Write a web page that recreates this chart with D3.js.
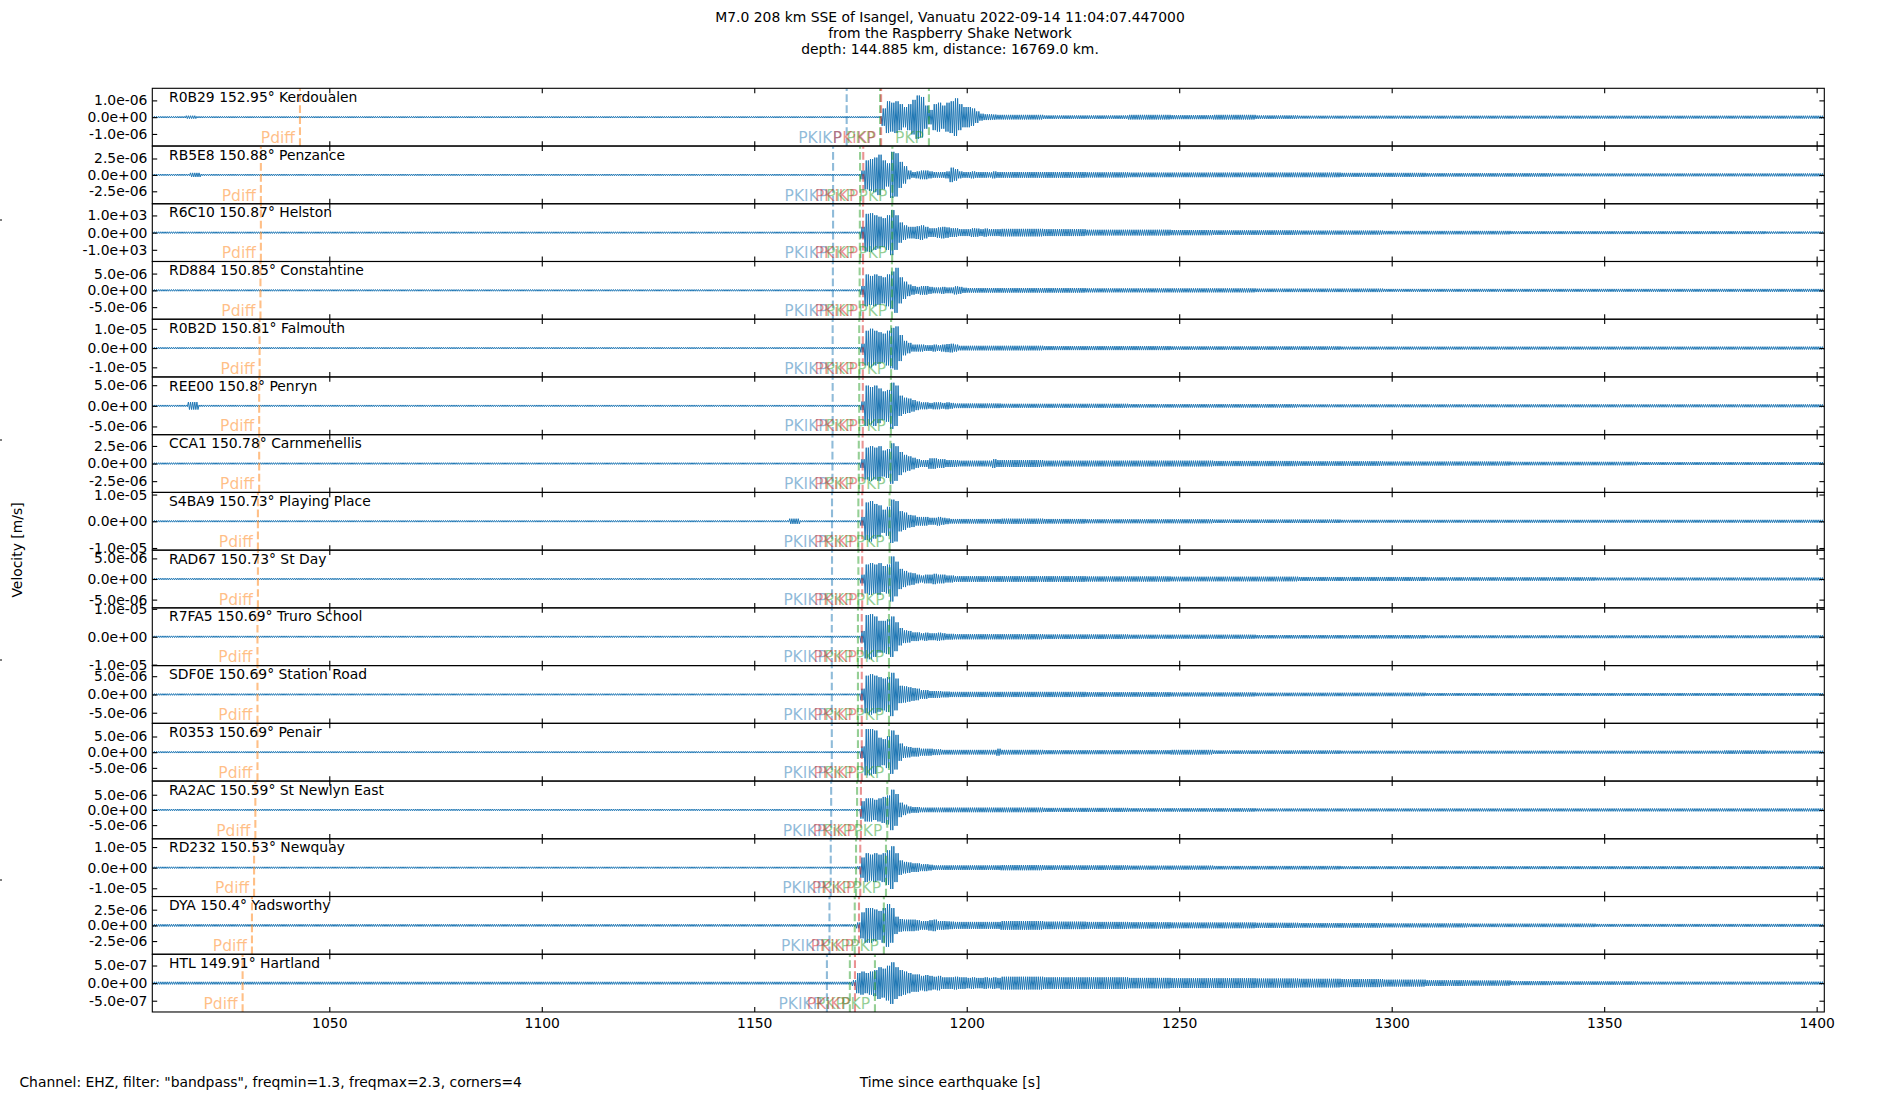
<!DOCTYPE html>
<html><head><meta charset="utf-8">
<script src="https://cdn.jsdelivr.net/npm/d3@7"></script>
<style>
body{margin:0;background:#fff}
text{font-family:"DejaVu Sans",sans-serif;fill:#000}
</style></head>
<body><svg id="chart" width="1900" height="1100"></svg>
<script>
// ---------------- data ----------------
const titleLines = ["M7.0 208 km SSE of Isangel, Vanuatu 2022-09-14 11:04:07.447000",
  "from the Raspberry Shake Network", "depth: 144.885 km, distance: 16769.0 km."];
const footerText = 'Channel: EHZ, filter: "bandpass", freqmin=1.3, freqmax=2.3, corners=4';
const xLabel = "Time since earthquake [s]";
const yLabel = "Velocity [m/s]";
const timeDomain = [1008.35, 1401.8];
const xTicks = [1050, 1100, 1150, 1200, 1250, 1300, 1350, 1400];

const stationCodes = ["R0B29","RB5E8","R6C10","RD884","R0B2D","REE00","CCA1","S4BA9","RAD67","R7FA5","SDF0E","R0353","RA2AC","RD232","DYA","HTL"];
const distances = [152.95,150.88,150.87,150.85,150.81,150.8,150.78,150.73,150.73,150.69,150.69,150.69,150.59,150.53,150.4,149.91];
const places = ["Kerdoualen","Penzance","Helston","Constantine","Falmouth","Penryn","Carnmenellis","Playing Place","St Day","Truro School","Station Road","Penair","St Newlyn East","Newquay","Yadsworthy","Hartland"];
const tickSteps = [1e-6,2.5e-6,1e3,5e-6,1e-5,5e-6,2.5e-6,1e-5,5e-6,1e-5,5e-6,5e-6,5e-6,1e-5,2.5e-6,5e-7];
const yLimits = [1.72e-6,4.4e-6,1.68e3,8.6e-6,1.5e-5,7.0e-6,4.1e-6,1.08e-5,7.0e-6,1.035e-5,7.9e-6,9.2e-6,9.5e-6,1.4e-5,4.6e-6,8.2e-7];

// phase arrival times [s]
const pdiffT = [1043.1,1033.9,1033.9,1033.8,1033.6,1033.5,1033.5,1033.2,1033.2,1033.1,1033.1,1033.1,1032.6,1032.3,1031.8,1029.6];
const pkikpT = [1171.75,1168.55,1168.55,1168.5,1168.45,1168.45,1168.4,1168.3,1168.3,1168.25,1168.25,1168.25,1168.1,1168.0,1167.7,1167.1];
const pkpT   = [1179.6,1174.9,1174.85,1174.8,1174.7,1174.7,1174.6,1174.5,1174.5,1174.4,1174.4,1174.4,1174.2,1173.95,1173.65,1172.5];
const pkikpInnerT = [1179.85,1175.65,1175.6,1175.6,1175.55,1175.55,1175.5,1175.4,1175.4,1175.3,1175.3,1175.3,1175.1,1174.95,1174.65,1173.7];
const pkp2T  = [1191.1,1182.5,1182.45,1182.4,1182.2,1182.15,1182.05,1181.85,1181.85,1181.7,1181.7,1181.7,1181.3,1181.0,1180.5,1178.4];

// pre-event noise level, fraction of y-limit
const noiseRel = [0.03,0.03,0.03,0.03,0.03,0.03,0.03,0.03,0.03,0.03,0.03,0.03,0.03,0.03,0.04,0.045];
// small pre-event wavelets: [station index, time s, fraction of y-limit]
const blips = [[0,1017.5,0.05],[1,1018.5,0.07],[5,1018.0,0.13],[7,1159.5,0.09]];

// peak envelope per 1 s bin from 1172 s to 1208 s (fraction of y-limit)
const burstStart = 1172;
const burstRel = [
 [0.03,0.03,0.03,0.03,0.03,0.03,0.03,0.03,0.3,0.55,0.5,0.55,0.45,0.35,0.45,0.6,0.75,0.7,0.4,0.25,0.45,0.5,0.4,0.5,0.55,0.65,0.45,0.35,0.35,0.3,0.2,0.12,0.1,0.1,0.09,0.08],
 [0.03,0.03,0.03,0.15,0.5,0.55,0.6,0.7,0.5,0.4,0.8,0.75,0.45,0.3,0.15,0.1,0.12,0.15,0.15,0.12,0.1,0.1,0.1,0.12,0.25,0.2,0.12,0.1,0.1,0.12,0.1,0.1,0.1,0.09,0.12,0.1],
 [0.03,0.03,0.03,0.2,0.65,0.67,0.6,0.55,0.5,0.6,0.78,0.6,0.35,0.25,0.2,0.2,0.22,0.25,0.2,0.15,0.15,0.18,0.2,0.18,0.15,0.15,0.12,0.12,0.12,0.15,0.14,0.12,0.14,0.12,0.12,0.12],
 [0.03,0.03,0.03,0.15,0.55,0.5,0.55,0.5,0.45,0.55,0.65,0.78,0.45,0.3,0.2,0.15,0.12,0.15,0.15,0.12,0.1,0.1,0.12,0.1,0.1,0.14,0.12,0.09,0.08,0.08,0.08,0.08,0.08,0.08,0.08,0.08],
 [0.03,0.03,0.03,0.15,0.6,0.67,0.6,0.55,0.5,0.6,0.7,0.75,0.45,0.25,0.18,0.12,0.12,0.12,0.1,0.1,0.12,0.1,0.12,0.14,0.15,0.12,0.08,0.08,0.08,0.08,0.08,0.08,0.08,0.08,0.08,0.08],
 [0.03,0.03,0.03,0.15,0.7,0.65,0.7,0.6,0.5,0.55,0.8,0.7,0.35,0.28,0.25,0.2,0.15,0.12,0.12,0.1,0.12,0.12,0.1,0.12,0.1,0.08,0.08,0.08,0.08,0.08,0.08,0.08,0.08,0.08,0.08,0.08],
 [0.03,0.03,0.03,0.15,0.55,0.6,0.55,0.6,0.45,0.5,0.7,0.6,0.4,0.3,0.25,0.2,0.15,0.12,0.12,0.18,0.18,0.15,0.15,0.12,0.12,0.12,0.1,0.1,0.1,0.1,0.1,0.1,0.1,0.1,0.15,0.12],
 [0.03,0.03,0.03,0.15,0.65,0.7,0.6,0.55,0.4,0.5,0.75,0.7,0.35,0.3,0.22,0.2,0.15,0.15,0.15,0.12,0.12,0.15,0.12,0.1,0.08,0.08,0.08,0.08,0.08,0.08,0.08,0.08,0.08,0.08,0.08,0.08],
 [0.03,0.03,0.03,0.15,0.5,0.55,0.5,0.55,0.45,0.5,0.78,0.6,0.35,0.28,0.22,0.2,0.15,0.12,0.15,0.15,0.18,0.15,0.15,0.12,0.12,0.1,0.1,0.1,0.1,0.1,0.1,0.1,0.1,0.1,0.1,0.1],
 [0.03,0.03,0.03,0.2,0.75,0.78,0.7,0.55,0.55,0.6,0.7,0.5,0.3,0.22,0.2,0.15,0.15,0.12,0.14,0.12,0.12,0.14,0.12,0.1,0.1,0.09,0.09,0.09,0.09,0.09,0.09,0.09,0.09,0.09,0.09,0.09],
 [0.03,0.03,0.03,0.2,0.65,0.7,0.65,0.6,0.55,0.6,0.75,0.55,0.3,0.28,0.25,0.22,0.2,0.15,0.15,0.12,0.12,0.12,0.1,0.1,0.09,0.09,0.09,0.09,0.09,0.09,0.09,0.09,0.09,0.09,0.09,0.09],
 [0.03,0.03,0.03,0.2,0.8,0.8,0.75,0.5,0.45,0.55,0.75,0.6,0.3,0.2,0.18,0.15,0.15,0.12,0.12,0.12,0.1,0.1,0.08,0.08,0.08,0.08,0.08,0.08,0.08,0.08,0.08,0.08,0.08,0.08,0.08,0.12],
 [0.03,0.03,0.03,0.3,0.4,0.4,0.35,0.4,0.45,0.5,0.7,0.55,0.25,0.18,0.12,0.1,0.1,0.08,0.08,0.08,0.08,0.08,0.08,0.08,0.08,0.08,0.08,0.08,0.08,0.08,0.08,0.08,0.08,0.08,0.08,0.08],
 [0.03,0.03,0.05,0.35,0.5,0.45,0.5,0.45,0.5,0.6,0.74,0.5,0.25,0.2,0.18,0.15,0.15,0.12,0.12,0.1,0.08,0.08,0.08,0.08,0.08,0.08,0.08,0.08,0.08,0.08,0.08,0.08,0.08,0.08,0.08,0.08],
 [0.04,0.04,0.1,0.45,0.6,0.6,0.55,0.5,0.6,0.74,0.6,0.3,0.22,0.2,0.2,0.2,0.18,0.15,0.15,0.18,0.2,0.15,0.15,0.14,0.13,0.12,0.12,0.12,0.12,0.12,0.12,0.12,0.12,0.12,0.12,0.12],
 [0.045,0.1,0.35,0.4,0.35,0.4,0.45,0.55,0.5,0.6,0.72,0.55,0.45,0.4,0.35,0.3,0.3,0.25,0.28,0.25,0.22,0.25,0.2,0.2,0.2,0.22,0.2,0.2,0.18,0.2,0.18,0.18,0.2,0.18,0.2,0.18]
];
// coda envelope per 10 s bin from 1208 s to 1408 s (fraction of y-limit)
const codaStart = 1208;
const codaRel = [
 [0.08,0.06,0.06,0.08,0.07,0.08,0.06,0.05,0.05,0.05,0.05,0.05,0.05,0.05,0.05,0.05,0.05,0.05,0.05,0.05],
 [0.1,0.1,0.09,0.08,0.08,0.08,0.08,0.08,0.07,0.07,0.06,0.06,0.06,0.05,0.05,0.05,0.05,0.05,0.05,0.05],
 [0.13,0.12,0.1,0.1,0.09,0.08,0.08,0.07,0.07,0.06,0.06,0.06,0.05,0.05,0.05,0.05,0.05,0.05,0.04,0.04],
 [0.08,0.08,0.07,0.07,0.07,0.07,0.06,0.06,0.06,0.05,0.05,0.05,0.05,0.05,0.05,0.05,0.05,0.05,0.05,0.05],
 [0.08,0.07,0.07,0.07,0.06,0.06,0.06,0.06,0.05,0.05,0.05,0.05,0.05,0.05,0.05,0.05,0.05,0.05,0.05,0.05],
 [0.07,0.07,0.07,0.06,0.06,0.06,0.06,0.05,0.05,0.05,0.05,0.05,0.05,0.05,0.05,0.05,0.05,0.05,0.05,0.05],
 [0.12,0.1,0.1,0.1,0.1,0.09,0.09,0.08,0.08,0.07,0.07,0.07,0.06,0.06,0.06,0.05,0.05,0.05,0.05,0.05],
 [0.09,0.08,0.07,0.07,0.07,0.06,0.06,0.06,0.05,0.05,0.05,0.05,0.05,0.05,0.05,0.05,0.05,0.05,0.05,0.05],
 [0.1,0.1,0.09,0.09,0.08,0.08,0.08,0.07,0.07,0.07,0.06,0.06,0.06,0.06,0.05,0.05,0.05,0.05,0.05,0.05],
 [0.09,0.08,0.08,0.07,0.07,0.07,0.06,0.06,0.06,0.06,0.05,0.05,0.05,0.05,0.05,0.05,0.05,0.05,0.05,0.05],
 [0.09,0.09,0.08,0.08,0.07,0.07,0.06,0.06,0.06,0.06,0.05,0.05,0.05,0.05,0.05,0.05,0.05,0.05,0.05,0.05],
 [0.08,0.07,0.07,0.07,0.08,0.06,0.06,0.06,0.05,0.05,0.05,0.05,0.05,0.05,0.05,0.05,0.05,0.06,0.05,0.05],
 [0.08,0.07,0.07,0.06,0.06,0.06,0.05,0.05,0.05,0.05,0.05,0.05,0.05,0.05,0.05,0.05,0.05,0.05,0.05,0.05],
 [0.09,0.08,0.08,0.07,0.07,0.06,0.06,0.06,0.05,0.05,0.05,0.05,0.05,0.05,0.05,0.05,0.05,0.05,0.05,0.05],
 [0.15,0.13,0.12,0.11,0.1,0.1,0.09,0.08,0.08,0.07,0.07,0.06,0.06,0.06,0.05,0.05,0.05,0.05,0.05,0.05],
 [0.22,0.2,0.2,0.18,0.17,0.17,0.16,0.15,0.14,0.12,0.1,0.09,0.07,0.06,0.06,0.05,0.05,0.05,0.05,0.05]
];

const phaseDefs = [
  {name:"Pdiff", times:pdiffT, color:"#ff7f0e"},
  {name:"PKIKP", times:pkikpT, color:"#1f77b4"},
  {name:"PKP",   times:pkpT,   color:"#2ca02c"},
  {name:"PKiKP", times:pkikpInnerT, color:"#d62728"},
  {name:"PKP",   times:pkp2T,  color:"#2ca02c"}
];

// ---------------- layout ----------------
const figH = 1100;
const plotLeft = 152.3, plotRight = 1824.3, plotTop = 88.3, panelH = 57.73;
const nP = stationCodes.length;
const svg = d3.select("#chart");
const x = d3.scaleLinear().domain(timeDomain).range([plotLeft, plotRight]);
const tickLen = 4.9;

function sci(v){
  if (v === 0) return "0.0e+00";
  const s = v.toExponential(1);
  const parts = s.split("e");
  const sign = parts[1][0] === "-" ? "-" : "+";
  const digits = parts[1].replace(/[+-]/, "").padStart(2, "0");
  return parts[0] + "e" + sign + digits;
}

function envelopeAt(i, t){
  for (const b of blips) if (b[0] === i && Math.abs(t - b[1]) < 1.2) return b[2];
  if (t < burstStart) return noiseRel[i];
  if (t < codaStart) {
    const k = Math.floor(t - burstStart);
    return burstRel[i][Math.min(k, burstRel[i].length - 1)];
  }
  const k = Math.floor((t - codaStart) / 10);
  return codaRel[i][Math.min(k, codaRel[i].length - 1)];
}

const defs = svg.append("defs");

for (let i = 0; i < nP; i++) {
  const y0 = plotTop + i * panelH, y1 = y0 + panelH;
  const yLim = yLimits[i];
  const y = d3.scaleLinear().domain([-yLim, yLim]).range([y1, y0]);
  const g = svg.append("g");

  defs.append("clipPath").attr("id", "clip" + i)
    .append("rect").attr("x", plotLeft).attr("y", y0).attr("width", plotRight - plotLeft).attr("height", panelH);

  // each envelope bin drawn as a min/max oscillating trace
  const samples = [];
  const dt = 0.25;
  let n = 0;
  for (let t = timeDomain[0]; t <= timeDomain[1]; t += dt, n++) {
    const a = envelopeAt(i, t) * yLim;
    samples.push([t, (n % 2 === 0 ? 1 : -1) * a]);
  }
  g.append("path")
    .attr("clip-path", `url(#clip${i})`)
    .attr("d", d3.line().x(d => x(d[0])).y(d => y(d[1]))(samples))
    .attr("fill", "none").attr("stroke", "#1f77b4").attr("stroke-width", 1);

  phaseDefs.forEach(p => {
    const px = x(p.times[i]);
    g.append("line").attr("x1", px).attr("x2", px).attr("y1", y1).attr("y2", y0)
      .attr("stroke", p.color).attr("stroke-opacity", 0.5).attr("stroke-width", 2.08)
      .attr("stroke-dasharray", "7.7,3.3");
  });
  phaseDefs.forEach(p => {
    const px = x(p.times[i]);
    g.append("text").attr("x", px).attr("y", y1 - 3.2)
      .attr("text-anchor", "end").style("font-size", "15.5px")
      .style("fill", p.color).style("fill-opacity", 0.5)
      .text(p.name + "\u00a0");
  });

  g.append("rect").attr("x", plotLeft).attr("y", y0).attr("width", plotRight - plotLeft).attr("height", panelH)
    .attr("fill", "none").attr("stroke", "#000").attr("stroke-width", 1.1);

  const yTicks = [-tickSteps[i], 0, tickSteps[i]];
  const axL = g.append("g").attr("transform", `translate(${plotLeft},0)`)
    .call(d3.axisLeft(y).tickValues(yTicks).tickFormat(sci).tickSize(-tickLen).tickSizeOuter(0).tickPadding(4.9));
  const axR = g.append("g").attr("transform", `translate(${plotRight},0)`)
    .call(d3.axisRight(y).tickValues(yTicks).tickFormat("").tickSize(-tickLen).tickSizeOuter(0));
  const axT = g.append("g").attr("transform", `translate(0,${y0})`)
    .call(d3.axisTop(x).tickValues(xTicks).tickFormat("").tickSize(-tickLen).tickSizeOuter(0));
  const axB = g.append("g").attr("transform", `translate(0,${y1})`)
    .call(d3.axisBottom(x).tickValues(xTicks).tickFormat(i === nP - 1 ? d3.format("d") : "")
      .tickSize(-tickLen).tickSizeOuter(0).tickPadding(6));
  [axL, axR, axT, axB].forEach(a => {
    a.select(".domain").remove();
    a.selectAll(".tick line").attr("stroke", "#000").attr("stroke-width", 1.1);
    a.selectAll("text").style("font-size", "13.9px").style("font-family", '"DejaVu Sans",sans-serif').attr("fill", "#000");
  });

  g.append("text").attr("x", plotLeft + 0.01 * (plotRight - plotLeft)).attr("y", y0 + 13.6)
    .style("font-size", "13.9px")
    .text(`${stationCodes[i]} ${distances[i]}° ${places[i]}`);
}

svg.append("g").selectAll("text").data(titleLines).join("text")
  .attr("x", 950).attr("y", (d, k) => 21.5 + k * 16.4)
  .attr("text-anchor", "middle").style("font-size", "13.9px").text(d => d);

svg.append("text").attr("x", 19.4).attr("y", 1086.5).style("font-size", "13.9px").text(footerText);
svg.append("text").attr("x", 950).attr("y", 1086.5).attr("text-anchor", "middle").style("font-size", "13.9px").text(xLabel);
svg.append("text").attr("transform", "translate(22,550) rotate(-90)").attr("text-anchor", "middle")
  .style("font-size", "13.9px").text(yLabel);

svg.append("g").selectAll("line").data([0.2, 0.4, 0.6, 0.8]).join("line")
  .attr("x1", 0).attr("x2", 2).attr("y1", d => figH * (1 - d)).attr("y2", d => figH * (1 - d))
  .attr("stroke", "#000").attr("stroke-width", 1.1);
</script>
</body></html>
